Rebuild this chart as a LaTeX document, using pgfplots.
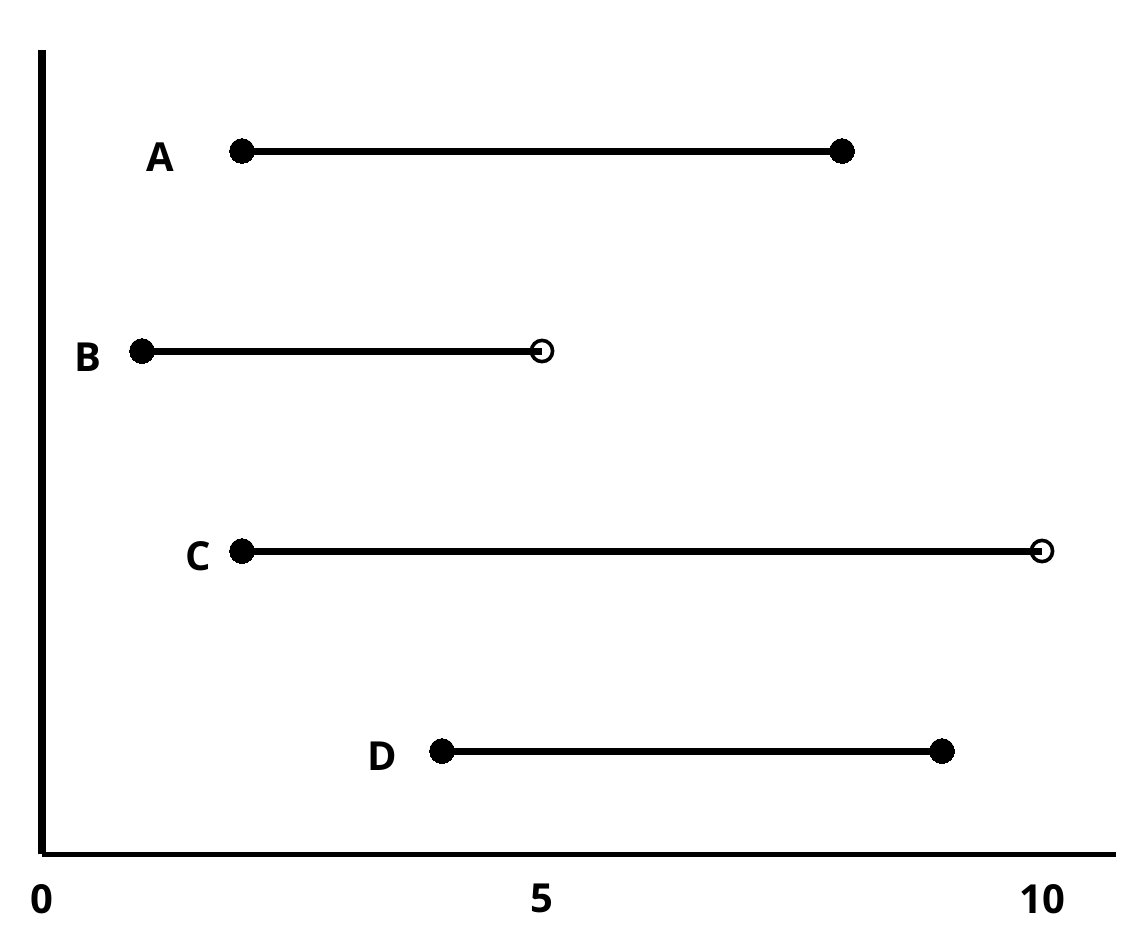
\documentclass[border=0pt]{standalone}
\usepackage{fontspec}
\setmainfont{Open Sans}
\usepackage{pgfplots}
\pgfplotsset{compat=1.18}
\begin{document}
\begin{tikzpicture}
\begin{axis}[
  scale only axis,
  width=537pt, height=402pt,
  xmin=0, xmax=10.74, ymin=0.485, ymax=4.505,
  axis lines=left,
  axis line style={-},
  x axis line style={line width=2.5pt},
  y axis line style={line width=3.6pt},
  xtick={0,5,10},
  ytick=\empty,
  major tick length=0pt,
  /pgf/number format/assume math mode=true,
  xticklabel style={font=\fontsize{20}{24}\selectfont\bfseries, anchor=north, inner sep=0pt, yshift=-15pt},
  clip=false,
]
% intervals
\addplot[black, line width=3.5pt] coordinates {(2,4) (8,4)};
\addplot[black, line width=3.5pt] coordinates {(1,3) (5,3)};
\addplot[black, line width=3.5pt] coordinates {(2,2) (10,2)};
\addplot[black, line width=3.5pt] coordinates {(4,1) (9,1)};
% closed endpoints
\addplot[only marks, mark=*, mark size=6.2pt, mark options={fill=black, draw=black, line width=0pt}]
  coordinates {(2,4) (8,4) (1,3) (2,2) (4,1) (9,1)};
% open endpoints
\addplot[only marks, mark=o, mark size=5.3pt, mark options={draw=black, line width=1.8pt, fill=none}]
  coordinates {(5,3) (10,2)};
% labels
\node[font=\fontsize{20}{24}\selectfont\bfseries] at (axis cs:1.18,3.97) {A};
\node[font=\fontsize{20}{24}\selectfont\bfseries] at (axis cs:0.46,2.97) {B};
\node[font=\fontsize{20}{24}\selectfont\bfseries] at (axis cs:1.56,1.975) {C};
\node[font=\fontsize{20}{24}\selectfont\bfseries] at (axis cs:3.40,0.975) {D};
% bounding box
\path (axis cs:-0.42,0.06) rectangle (axis cs:10.96,4.755);
\end{axis}
\end{tikzpicture}
\end{document}
